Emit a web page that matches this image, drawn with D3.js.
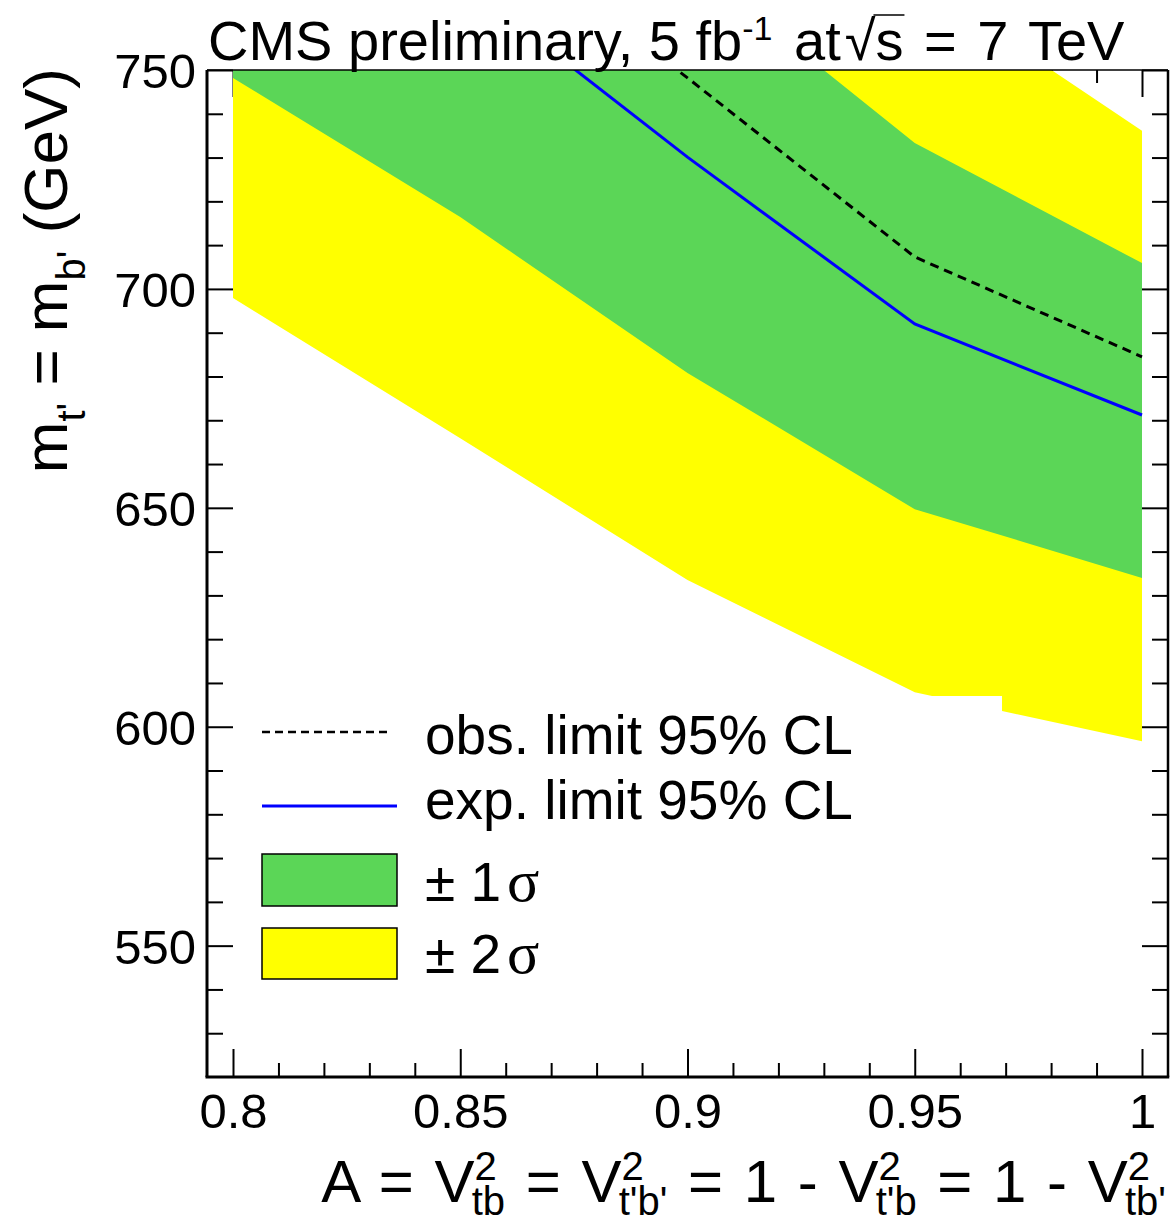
<!DOCTYPE html>
<html>
<head>
<meta charset="utf-8">
<script src="https://cdnjs.cloudflare.com/ajax/libs/d3/7.8.5/d3.min.js"></script>
<title>t' b' limit</title>
<style>
  body { margin: 0; background: #fff; }
  text { font-family: "Liberation Sans", Arial, Helvetica, sans-serif; }
</style>
</head>
<body>
<script>
// A = Vtb^2 points where the limits were evaluated
const aPoints = [0.8, 0.85, 0.9, 0.95, 1.0];
// limits on m_t' = m_b' (GeV)
const expLimit = [797, 770.5, 730.1, 692.0, 671.2];
const obsLimit = [830, 788, 748.2, 707.3, 684.5];
const plus1 = [818, 798, 775, 733.3, 705.9];
const minus1 = [748.2, 716.4, 680.8, 649.7, 634.0];
const plus2 = [845, 822, 796, 771, 736.1];
// the -2 sigma edge has a few extra points near A = 0.95 - 0.97
const minus2A = [0.8, 0.85, 0.9, 0.95, 0.9538, 0.9692, 0.9692, 1.0];
const minus2 = [697.9, 665.9, 633.5, 607.9, 607.0, 607.0, 603.6, 596.7];

const xMajor = [0.8, 0.85, 0.9, 0.95, 1.0];
const xMinor = d3.range(80, 101).map(d => d / 100).filter(d => !xMajor.includes(d));
const yMajor = [550, 600, 650, 700, 750];
const yMinor = d3.range(530, 750, 10).filter(d => !yMajor.includes(d));

const legendLabels = ["obs. limit 95% CL", "exp. limit 95% CL", "\u00b1 1", "\u00b1 2"];

const W = 1173, H = 1221;
const frame = { left: 207, right: 1168, top: 70, bottom: 1077 };

const svg = d3.select("body").append("svg")
    .attr("width", W)
    .attr("height", H);

const x = d3.scaleLinear().domain([0.8, 1.0]).range([233, 1142]);
const y = d3.scaleLinear().domain([520, 750]).range([frame.bottom, frame.top]);

// ---- ticks (drawn first, bands cover them like in the original)
function ticks(axisFn, scale, values, size, tr) {
  const g = svg.append("g")
      .attr("transform", tr)
      .call(axisFn(scale).tickValues(values).tickSize(size).tickFormat(""));
  g.select(".domain").remove();
  g.selectAll("line").attr("stroke", "#000").attr("stroke-width", 2);
  return g;
}
ticks(d3.axisBottom, x, xMinor, -14, `translate(0,${frame.bottom})`);
ticks(d3.axisTop, x, xMinor, -13, `translate(0,${frame.top})`);
ticks(d3.axisTop, x, xMajor, -27, `translate(0,${frame.top})`);
ticks(d3.axisLeft, y, yMinor, -16, `translate(${frame.left},0)`);
ticks(d3.axisRight, y, yMinor, -16, `translate(${frame.right},0)`);
ticks(d3.axisRight, y, yMajor, -26, `translate(${frame.right},0)`);

const xAx = svg.append("g")
    .attr("transform", `translate(0,${frame.bottom})`)
    .call(d3.axisBottom(x).tickValues(xMajor).tickSize(-28).tickFormat(d => String(+d.toFixed(2))))
    .attr("font-size", 49);
xAx.select(".domain").remove();
xAx.selectAll("line").attr("stroke", "#000").attr("stroke-width", 2);
xAx.selectAll("text").attr("y", 51).attr("dy", 0).attr("fill", "#000");

const yAx = svg.append("g")
    .attr("transform", `translate(${frame.left},0)`)
    .call(d3.axisLeft(y).tickValues(yMajor).tickSize(-26).tickFormat(d3.format("d")))
    .attr("font-size", 49);
yAx.select(".domain").remove();
yAx.selectAll("line").attr("stroke", "#000").attr("stroke-width", 2);
yAx.selectAll("text").attr("x", -11).attr("dy", "0.36em").attr("fill", "#000");

// ---- bands and lines
svg.append("clipPath").attr("id", "plot")
  .append("rect")
    .attr("x", frame.left).attr("y", frame.top)
    .attr("width", frame.right - frame.left)
    .attr("height", frame.bottom - frame.top);

const plot = svg.append("g").attr("clip-path", "url(#plot)");
const line = d3.line().x(d => x(d[0])).y(d => y(d[1]));

const band2 = aPoints.map((a, i) => [a, plus2[i]])
    .concat(minus2A.map((a, i) => [a, minus2[i]]).reverse());
const band1 = aPoints.map((a, i) => [a, plus1[i]])
    .concat(aPoints.map((a, i) => [a, minus1[i]]).reverse());

plot.append("path").attr("d", line(band2) + "Z").attr("fill", "#ffff00");
plot.append("path").attr("d", line(band1) + "Z").attr("fill", "#5bd657");

plot.append("path")
    .attr("d", line(aPoints.map((a, i) => [a, obsLimit[i]])))
    .attr("fill", "none").attr("stroke", "#000")
    .attr("stroke-width", 3).attr("stroke-dasharray", "9,6");
plot.append("path")
    .attr("d", line(aPoints.map((a, i) => [a, expLimit[i]])))
    .attr("fill", "none").attr("stroke", "#0000ff").attr("stroke-width", 3);

// ---- frame
svg.append("line").attr("x1", frame.left).attr("x2", frame.right)
    .attr("y1", frame.top).attr("y2", frame.top)
    .attr("stroke", "#000").attr("stroke-width", 1.5);
svg.append("line").attr("x1", frame.left).attr("x2", frame.left)
    .attr("y1", frame.top).attr("y2", frame.bottom)
    .attr("stroke", "#000").attr("stroke-width", 3);
svg.append("line").attr("x1", frame.right).attr("x2", frame.right)
    .attr("y1", frame.top).attr("y2", frame.bottom)
    .attr("stroke", "#000").attr("stroke-width", 2.5);
svg.append("line").attr("x1", frame.left - 1.5).attr("x2", frame.right + 1.25)
    .attr("y1", frame.bottom).attr("y2", frame.bottom)
    .attr("stroke", "#000").attr("stroke-width", 3);

// ---- legend
const leg = svg.append("g");
leg.append("line").attr("x1", 262).attr("x2", 392).attr("y1", 732).attr("y2", 732)
    .attr("stroke", "#000").attr("stroke-width", 2.5).attr("stroke-dasharray", "8,5");
leg.append("line").attr("x1", 262).attr("x2", 397).attr("y1", 806).attr("y2", 806)
    .attr("stroke", "#0000ff").attr("stroke-width", 3);
leg.append("rect").attr("x", 262).attr("y", 854).attr("width", 135).attr("height", 52)
    .attr("fill", "#5bd657").attr("stroke", "#000").attr("stroke-width", 1.5);
leg.append("rect").attr("x", 262).attr("y", 928).attr("width", 135).attr("height", 51)
    .attr("fill", "#ffff00").attr("stroke", "#000").attr("stroke-width", 1.5);

const legY = [754, 819, 901, 973];
legendLabels.forEach((lab, i) => {
  const t = leg.append("text").attr("x", 425).attr("y", legY[i]).attr("font-size", 55);
  t.append("tspan").text(lab);
  if (i >= 2) {
    t.append("tspan").attr("dx", 6)
      .style("font-family", '"Liberation Serif", "DejaVu Serif", serif')
      .attr("font-size", 60).text("\u03c3");
  }
});

// ---- title
const title = svg.append("text").attr("x", 208).attr("y", 60).attr("font-size", 56);
title.append("tspan").text("CMS preliminary, 5 fb");
title.append("tspan").attr("font-size", 34).attr("dy", -20).text("-1");
title.append("tspan").attr("dy", 20).attr("dx", 6).text(" at");
title.append("tspan").attr("dx", 4).text("\u221as");
title.append("tspan").style("word-spacing", "5px").text(" = 7 TeV");
{
  const node = title.node();
  const str = node.textContent;
  const ir = str.indexOf("\u221a");
  const rb = node.getExtentOfChar(ir);
  const sb = node.getExtentOfChar(ir + 1);
  svg.append("line")
      .attr("x1", rb.x + rb.width - 2).attr("x2", sb.x + sb.width + 1)
      .attr("y1", 15).attr("y2", 15)
      .attr("stroke", "#000").attr("stroke-width", 1.5);
}

// ---- x axis title
const xt = svg.append("text")
    .attr("x", 1166).attr("y", 1202)
    .attr("text-anchor", "end")
    .attr("font-size", 60)
    .style("word-spacing", "4px");
const subs = ["tb", "t'b'", "t'b", "tb'"];
const lead = ["A = V", " = V", " = 1 - V", " = 1 - V"];
subs.forEach((s, i) => {
  xt.append("tspan").attr("dy", i === 0 ? 0 : -13).text(lead[i]);
  xt.append("tspan").attr("font-size", 40).attr("dy", -22).text("2");
  xt.append("tspan").attr("font-size", 40).attr("dx", -25).attr("dy", 35).text(s);
});

// ---- y axis title
const yt = svg.append("text")
    .attr("transform", "translate(67,68) rotate(-90)")
    .attr("text-anchor", "end")
    .attr("font-size", 62);
yt.append("tspan").text("m");
yt.append("tspan").attr("font-size", 40).attr("dy", 18).text("t'");
yt.append("tspan").attr("dy", -18).text(" = m");
yt.append("tspan").attr("font-size", 40).attr("dy", 18).text("b'");
yt.append("tspan").attr("dy", -18).text(" (GeV)");
</script>
</body>
</html>
